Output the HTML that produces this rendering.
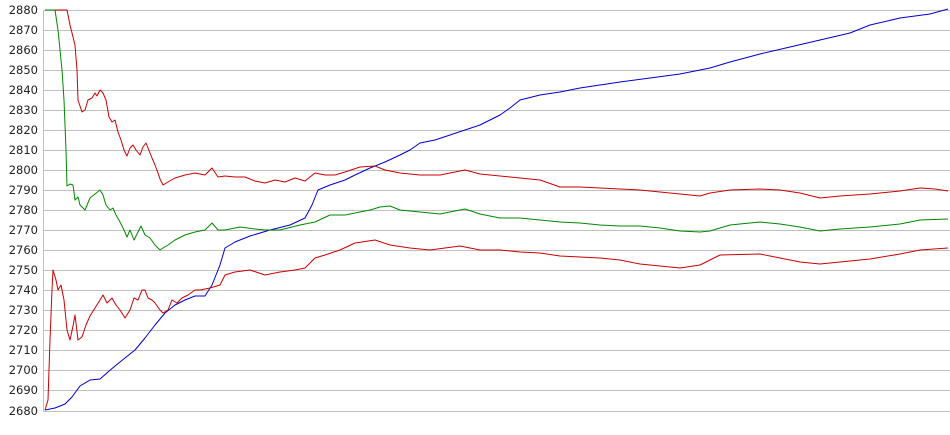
<!DOCTYPE html>
<html><head><style>
html,body{margin:0;padding:0;background:#fff;width:950px;height:435px;overflow:hidden}
text{font-family:"DejaVu Sans","Liberation Sans",sans-serif;font-size:11.5px;fill:#222}
</style></head><body>
<svg width="950" height="435" xmlns="http://www.w3.org/2000/svg">
<g stroke="#c0c0c0" stroke-width="1" shape-rendering="crispEdges">
<line x1="44" y1="10.5" x2="950" y2="10.5"/><line x1="44" y1="30.5" x2="950" y2="30.5"/><line x1="44" y1="50.5" x2="950" y2="50.5"/><line x1="44" y1="70.5" x2="950" y2="70.5"/><line x1="44" y1="90.5" x2="950" y2="90.5"/><line x1="44" y1="110.5" x2="950" y2="110.5"/><line x1="44" y1="130.5" x2="950" y2="130.5"/><line x1="44" y1="150.5" x2="950" y2="150.5"/><line x1="44" y1="170.5" x2="950" y2="170.5"/><line x1="44" y1="190.5" x2="950" y2="190.5"/><line x1="44" y1="210.5" x2="950" y2="210.5"/><line x1="44" y1="230.5" x2="950" y2="230.5"/><line x1="44" y1="250.5" x2="950" y2="250.5"/><line x1="44" y1="270.5" x2="950" y2="270.5"/><line x1="44" y1="290.5" x2="950" y2="290.5"/><line x1="44" y1="310.5" x2="950" y2="310.5"/><line x1="44" y1="330.5" x2="950" y2="330.5"/><line x1="44" y1="350.5" x2="950" y2="350.5"/><line x1="44" y1="370.5" x2="950" y2="370.5"/><line x1="44" y1="390.5" x2="950" y2="390.5"/><line x1="44" y1="411.5" x2="950" y2="411.5"/>
<line x1="43.5" y1="10" x2="43.5" y2="412"/>
</g>
<g text-anchor="end">
<text x="38" y="14">2880</text><text x="38" y="34">2870</text><text x="38" y="54">2860</text><text x="38" y="74">2850</text><text x="38" y="94">2840</text><text x="38" y="114">2830</text><text x="38" y="134">2820</text><text x="38" y="154">2810</text><text x="38" y="174">2800</text><text x="38" y="194">2790</text><text x="38" y="214">2780</text><text x="38" y="234">2770</text><text x="38" y="254">2760</text><text x="38" y="274">2750</text><text x="38" y="294">2740</text><text x="38" y="314">2730</text><text x="38" y="334">2720</text><text x="38" y="354">2710</text><text x="38" y="374">2700</text><text x="38" y="394">2690</text><text x="38" y="415">2680</text>
</g>
<g fill="none" stroke-width="1" stroke-linejoin="round">
<polyline stroke="#0000cc" points="45,410 55,408 65,404 72,397 80,386 90,380 100,379 108,372 115,366 125,358 135,350 145,338 155,325 165,313 175,305 185,300 195,296 205,296 212,285 220,265 225,248 235,242 250,236 270,230 290,225 305,218 312,205 318,190 330,185 345,180 355,175 370,168 385,162 400,155 410,150 420,143 435,140 450,135 465,130 480,125 500,115 510,108 520,100 540,95 560,92 580,88 600,85 620,82 650,78 680,74 710,68 730,62 760,54 790,47 820,40 850,33 870,25 900,18 930,14 948,9"/>
<polyline stroke="#cc0000" points="45,10 67,10 70,25 75,45 77,70 78,100 82,112 85,110 88,100 92,98 95,93 97,96 100,90 103,93 106,100 109,117 112,122 115,120 118,132 121,140 124,150 127,156 130,148 133,145 136,150 140,155 143,147 146,143 148,148 152,158 155,165 158,173 160,179 163,185 168,182 175,178 185,175 195,173 205,175 212,168 218,177 225,176 235,177 245,177 255,181 265,183 275,180 285,182 295,178 305,181 315,173 325,175 335,175 345,172 360,167 375,166 385,170 400,173 420,175 440,175 465,170 480,174 500,176 520,178 540,180 560,187 580,187 600,188 620,189 640,190 660,192 680,194 700,196 710,193 730,190 760,189 780,190 800,193 820,198 840,196 870,194 900,191 920,188 935,189 948,191"/>
<polyline stroke="#008800" points="45,10 55,10 58,30 60,50 62,70 64,100 66,150 67,186 70,184 73,185 75,200 78,197 80,205 85,210 90,198 95,194 100,190 103,195 106,205 110,210 113,208 116,215 120,222 124,230 127,237 130,230 134,240 138,232 141,226 145,235 150,238 155,245 160,250 163,248 168,245 175,240 185,235 195,232 205,230 212,223 218,230 225,230 240,227 255,229 265,230 280,230 300,225 315,222 330,215 345,215 360,212 370,210 380,207 390,206 400,210 420,212 440,214 465,209 480,214 500,218 520,218 540,220 560,222 580,223 600,225 620,226 640,226 660,228 680,231 700,232 710,231 730,225 760,222 780,224 800,227 820,231 840,229 870,227 900,224 920,220 948,219"/>
<polyline stroke="#cc0000" points="45,410 48,400 50,340 52,290 53,270 56,280 58,290 61,285 64,300 67,330 70,340 73,326 75,315 78,340 82,337 86,325 90,316 95,308 100,300 103,295 107,303 112,298 116,305 120,310 125,318 130,310 134,298 138,300 142,290 145,290 148,298 152,300 155,303 160,310 163,313 168,310 172,300 177,303 182,298 188,295 195,290 200,290 210,288 220,285 225,275 235,272 250,270 265,275 280,272 295,270 305,268 315,258 325,255 340,250 355,243 375,240 390,245 410,248 430,250 460,246 480,250 500,250 520,252 540,253 560,256 580,257 600,258 620,260 640,264 660,266 680,268 700,265 720,255 760,254 780,258 800,262 820,264 840,262 870,259 900,254 920,250 948,248"/>
</g>
</svg>
</body></html>
